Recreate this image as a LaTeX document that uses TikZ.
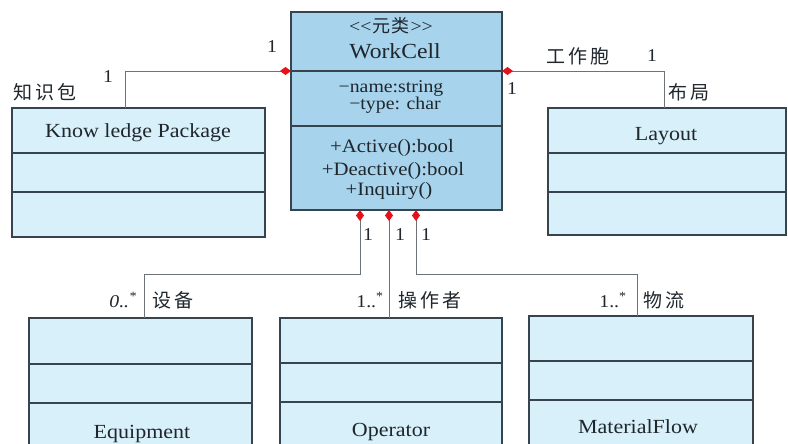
\documentclass[tikz,border=0pt]{standalone}
\usepackage{fontspec}
\setmainfont{Liberation Serif}[FakeStretch=1.1]
\newfontfamily\cjk{Noto Sans CJK SC}
\usetikzlibrary{arrows.meta}
\definecolor{boxfill}{HTML}{D8F0FA}
\definecolor{wcfill}{HTML}{A7D3EC}
\definecolor{edge}{HTML}{37444E}
\definecolor{wire}{HTML}{6B7378}
\definecolor{dia}{HTML}{E8101A}
\definecolor{ink}{HTML}{1F262C}
\newcommand{\zs}{\hspace{3pt}}
\begin{document}
\begin{tikzpicture}[x=1pt,y=-1pt,
  cls/.style={draw=edge, line width=1.3pt, fill=boxfill, anchor=north west, inner sep=0pt, outer sep=0pt},
  div/.style={draw=edge, line width=1.2pt},
  comp/.style={draw=wire, line width=0.9pt, {Diamond[color=dia,fill=dia,length=11pt,width=8pt]}-},
  txt/.style={font=\fontsize{18.9}{20}\selectfont, text=ink, inner sep=0pt, anchor=base},
  attr/.style={font=\fontsize{18}{19}\selectfont, text=ink, inner sep=0pt, anchor=base},
  clsname/.style={font=\fontsize{20}{22}\selectfont, text=ink, inner sep=0pt, anchor=base},
  lbl/.style={font=\fontsize{18}{20}\selectfont, text=ink, inner sep=0pt},
  zh/.style={font=\fontsize{19}{21}\selectfont\cjk, text=ink, inner sep=0pt}]
\useasboundingbox (0,0) rectangle (788,444);
\fill[white] (0,0) rectangle (788,444);
\begin{scope}
\clip (0,0) rectangle (788,444);
% class boxes
\node[cls, fill=wcfill, minimum width=211pt, minimum height=198pt] (wc) at (291,12) {};
\node[cls, minimum width=253pt, minimum height=129pt] (kp) at (12,108) {};
\node[cls, minimum width=238pt, minimum height=127pt] (ly) at (548,108) {};
\node[cls, minimum width=223pt, minimum height=134pt] (eq) at (29,318) {};
\node[cls, minimum width=222pt, minimum height=134pt] (op) at (280,318) {};
\node[cls, minimum width=224pt, minimum height=136pt] (mf) at (529,316) {};
% dividers
\draw[div] (wc.west |- 0,71) -- (wc.east |- 0,71);
\draw[div] (wc.west |- 0,126) -- (wc.east |- 0,126);
\draw[div] (kp.west |- 0,153) -- (kp.east |- 0,153);
\draw[div] (kp.west |- 0,192) -- (kp.east |- 0,192);
\draw[div] (ly.west |- 0,153) -- (ly.east |- 0,153);
\draw[div] (ly.west |- 0,192) -- (ly.east |- 0,192);
\draw[div] (eq.west |- 0,364) -- (eq.east |- 0,364);
\draw[div] (eq.west |- 0,403) -- (eq.east |- 0,403);
\draw[div] (op.west |- 0,363) -- (op.east |- 0,363);
\draw[div] (op.west |- 0,402) -- (op.east |- 0,402);
\draw[div] (mf.west |- 0,361) -- (mf.east |- 0,361);
\draw[div] (mf.west |- 0,400) -- (mf.east |- 0,400);
% texts in classes
\node[attr] (t1) at (391,33) {<\kern0pt<\kern1pt{\cjk\fontsize{18}{20}\selectfont 元\kern1pt 类}\kern1pt>\kern0pt>};
\node[clsname, font=\fontsize{21.5}{23}\selectfont] (t2) at (395,59) {WorkCell};
\node[attr] (t3) at (391,93) {−name:string};
\node[attr] (t4) at (395,109.5) {−type: char};
\node[txt] (t5) at (392,153) {+Active():bool};
\node[txt] (t6) at (393,175.5) {+Deactive():bool};
\node[txt] (t7) at (389,195) {+Inquiry()};
\node[clsname] (tk) at (138,138) {Know ledge Package};
\node[clsname] (tl) at (666,140) {Layout};
\node[clsname] (te) at (142,438) {Equipment};
\node[clsname] (to) at (391,436) {Operator};
\node[clsname] (tm) at (638,433) {MaterialFlow};
% port coordinates
\coordinate (wcL) at (wc.west |- 0,71);
\coordinate (wcR) at (wc.east |- 0,71);
\coordinate (wcB1) at (360,0 |- wc.south);
\coordinate (wcB2) at (389,0 |- wc.south);
\coordinate (wcB3) at (416,0 |- wc.south);
\coordinate (kpT) at (125,0 |- kp.north);
\coordinate (lyT) at (664,0 |- ly.north);
\coordinate (eqT) at (144,0 |- eq.north);
\coordinate (opT) at (389,0 |- op.north);
\coordinate (mfT) at (637,0 |- mf.north);
% connectors
\draw[comp] (wcL) -| (kpT);
\draw[comp] (wcR) -| (lyT);
\draw[comp] (wcB1) -- ++(0,64) -| (eqT);
\draw[comp] (wcB2) -- (opT);
\draw[comp] (wcB3) -- ++(0,64) -| (mfT);
% labels
\node[lbl] (m1) at (108,77) {1};
\node[zh] (z1) at (45,92) {知\zs 识\zs 包};
\node[lbl] (m2) at (272,47) {1};
\node[zh] (z2) at (578,56) {工\zs 作\zs 胞};
\node[lbl] (m3) at (652,56) {1};
\node[lbl] (m4) at (512,89) {1};
\node[zh] (z3) at (689,92) {布\zs 局};
\node[lbl] (m5) at (368,235) {1};
\node[lbl] (m6) at (400,235) {1};
\node[lbl] (m7) at (426,235) {1};
\node[lbl] (m8) at (123,300) {\itshape 0..\textsuperscript{*}};
\node[zh] (z4) at (173,300) {设\zs 备};
\node[lbl] (m9) at (370,300) {1..\textsuperscript{*}};
\node[zh] (z5) at (430,300) {操\zs 作\zs 者};
\node[lbl] (m10) at (613,300) {1..\textsuperscript{*}};
\node[zh] (z6) at (664,300) {物\zs 流};
\end{scope}
\end{tikzpicture}
\end{document}
